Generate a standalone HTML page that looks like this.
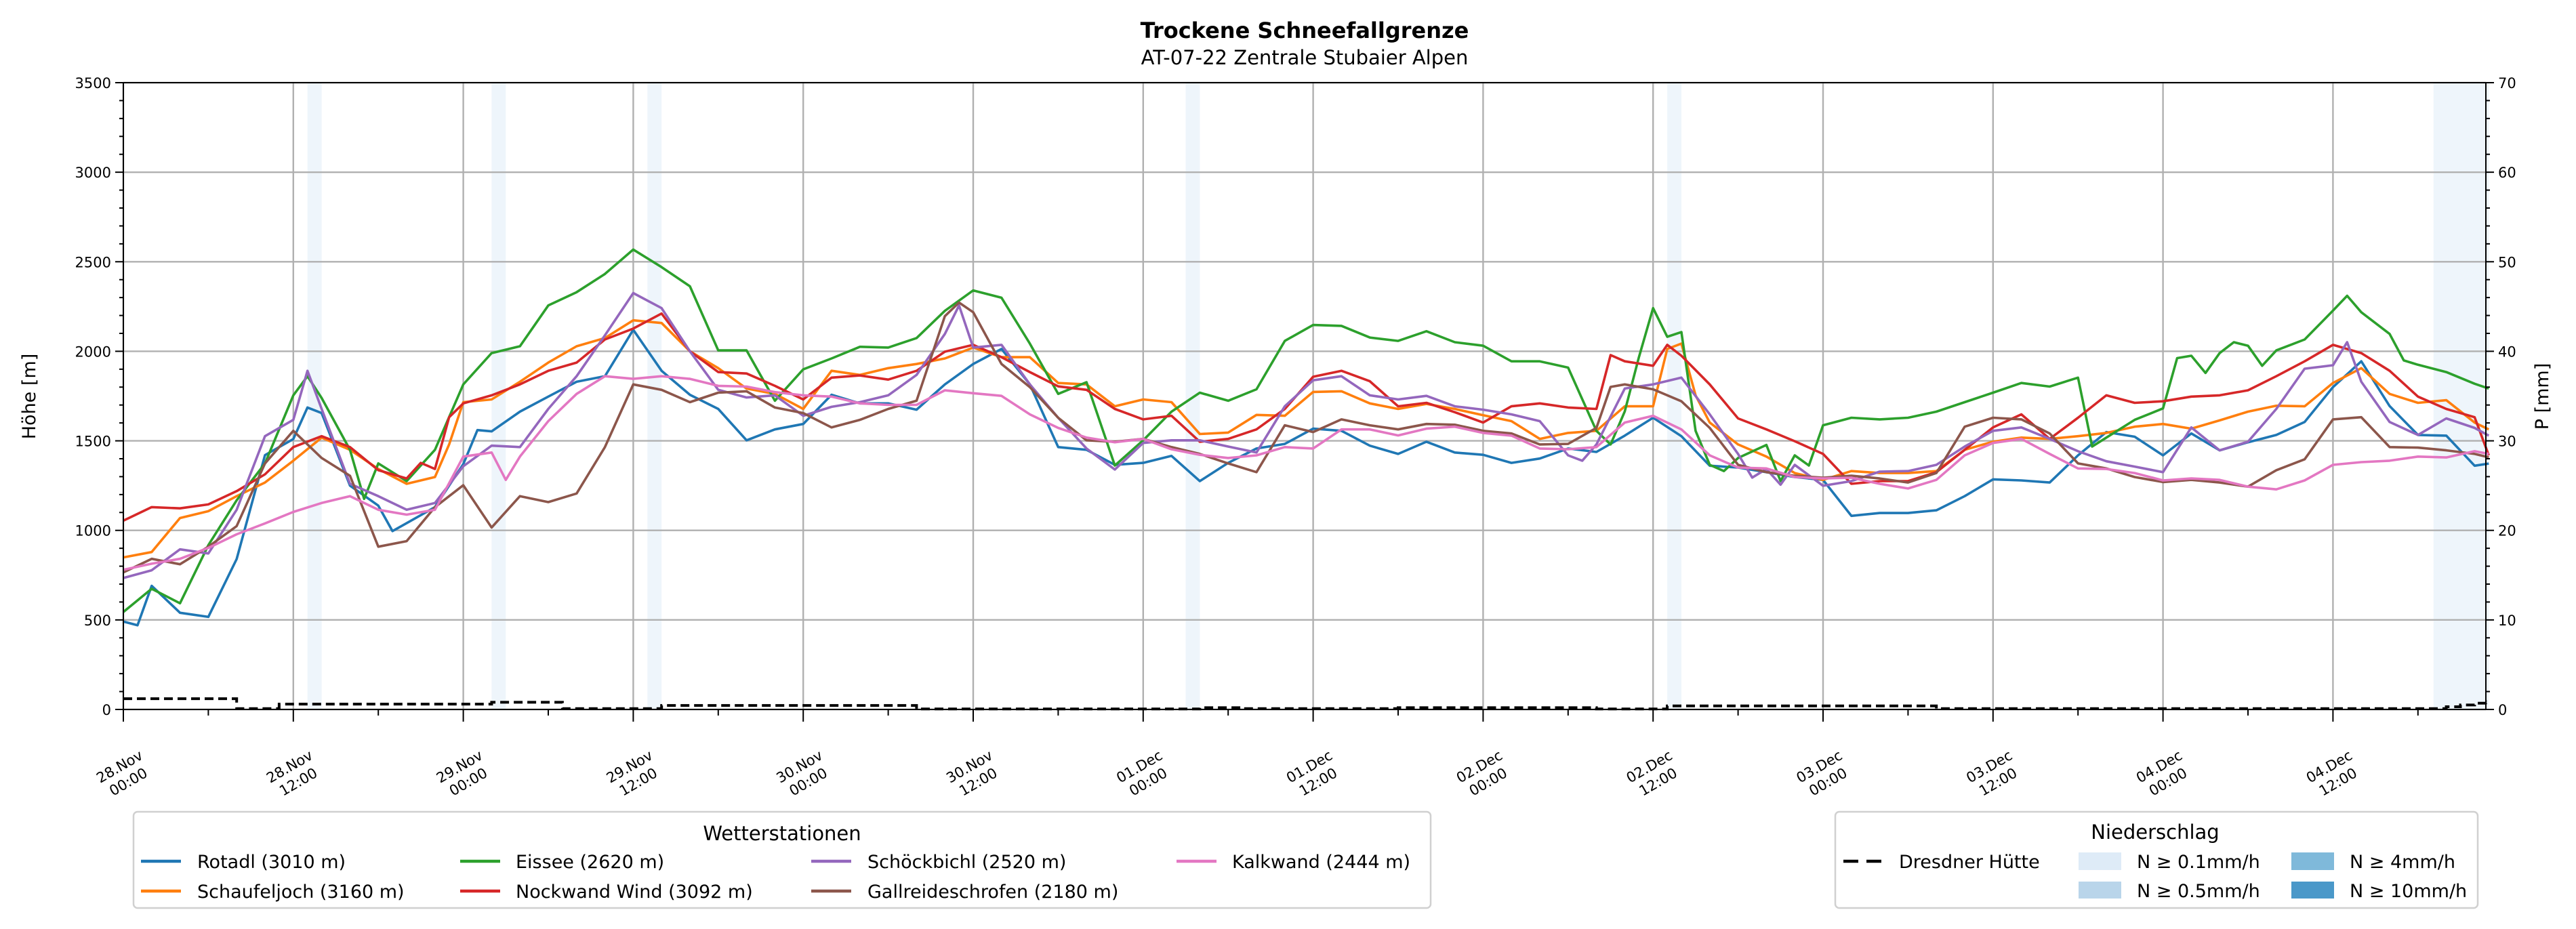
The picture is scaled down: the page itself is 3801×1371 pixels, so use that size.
<!DOCTYPE html>
<html><head><meta charset="utf-8">
<style>
html,body{margin:0;padding:0;background:#fff;}
svg{display:block;font-family:"DejaVu Sans","Liberation Sans",sans-serif;}
</style></head>
<body>
<svg id="chart" width="3801" height="1371" viewBox="0 0 3801 1371" xmlns="http://www.w3.org/2000/svg">
<rect x="0" y="0" width="3801" height="1371" fill="#fff"/>
<text x="1925" y="56" text-anchor="middle" font-size="32" font-weight="bold">Trockene Schneefallgrenze</text>
<text x="1925" y="95" text-anchor="middle" font-size="29">AT-07-22 Zentrale Stubaier Alpen</text>
<g id="bands"></g>
<g id="grid"></g>
<g id="series"></g>
<g id="axes"></g>
<text transform="translate(52,585) rotate(-90)" text-anchor="middle" font-size="27">Höhe [m]</text>
<text transform="translate(3760,585) rotate(-90)" text-anchor="middle" font-size="27">P [mm]</text>

<g>
<rect x="197" y="1198" width="1914" height="142" rx="6" fill="#fff" stroke="#d0d0d0" stroke-width="2.5"/>
<text x="1154" y="1240" text-anchor="middle" font-size="29">Wetterstationen</text>
<g font-size="27">
<line x1="208" y1="1271" x2="267" y2="1271" stroke="#1f77b4" stroke-width="4.5"/><text x="291" y="1281">Rotadl (3010 m)</text>
<line x1="208" y1="1315" x2="267" y2="1315" stroke="#ff7f0e" stroke-width="4.5"/><text x="291" y="1325">Schaufeljoch (3160 m)</text>
<line x1="679" y1="1271" x2="738" y2="1271" stroke="#2ca02c" stroke-width="4.5"/><text x="761" y="1281">Eissee (2620 m)</text>
<line x1="679" y1="1315" x2="738" y2="1315" stroke="#d62728" stroke-width="4.5"/><text x="761" y="1325">Nockwand Wind (3092 m)</text>
<line x1="1197" y1="1271" x2="1256" y2="1271" stroke="#9467bd" stroke-width="4.5"/><text x="1280" y="1281">Schöckbichl (2520 m)</text>
<line x1="1197" y1="1315" x2="1256" y2="1315" stroke="#8c564b" stroke-width="4.5"/><text x="1280" y="1325">Gallreideschrofen (2180 m)</text>
<line x1="1736" y1="1271" x2="1795" y2="1271" stroke="#e377c2" stroke-width="4.5"/><text x="1818" y="1281">Kalkwand (2444 m)</text>
</g></g>

<g>
<rect x="2708" y="1198" width="948" height="142" rx="6" fill="#fff" stroke="#d0d0d0" stroke-width="2.5"/>
<text x="3180" y="1238" text-anchor="middle" font-size="29">Niederschlag</text>
<g font-size="27">
<line x1="2720" y1="1271" x2="2778" y2="1271" stroke="#000" stroke-width="4.5" stroke-dasharray="22,12"/><text x="2802" y="1281">Dresdner Hütte</text>
<rect x="3067" y="1258" width="63" height="26" fill="#deebf7"/><text x="3153" y="1281">N ≥ 0.1mm/h</text>
<rect x="3067" y="1301" width="63" height="25" fill="#b9d5ea"/><text x="3153" y="1324">N ≥ 0.5mm/h</text>
<rect x="3381" y="1258" width="63" height="26" fill="#7fb9da"/><text x="3467" y="1281">N ≥ 4mm/h</text>
<rect x="3381" y="1301" width="63" height="25" fill="#4a98c9"/><text x="3467" y="1324">N ≥ 10mm/h</text>
</g></g>
</svg>
<script>
const xTickLabels = ["28.Nov\n00:00","28.Nov\n12:00","29.Nov\n00:00","29.Nov\n12:00","30.Nov\n00:00","30.Nov\n12:00","01.Dec\n00:00","01.Dec\n12:00","02.Dec\n00:00","02.Dec\n12:00","03.Dec\n00:00","03.Dec\n12:00","04.Dec\n00:00","04.Dec\n12:00"];
const yTicks = [0,500,1000,1500,2000,2500,3000,3500];
const y2Ticks = [0,10,20,30,40,50,60,70];

const rotadlH = [0,1,2,4,6,8,10,12,13,14,16,18,19,20,22,24,25,26,28,30,32,34,36,38,40,42,44,46,48,50,52,54,56,58,60,62,64,66,68,70,72,74,76,78,80,82,84,86,88,90,92,94,96,98,100,102,104,106,108,110,112,114,116,118,120,122,124,126,128,130,132,134,136,138,140,142,144,146,148,150,152,154,156,158,160,162,164,166,167];
const rotadlV = [491,470,690,540,517,840,1420,1510,1686,1655,1250,1138,996,1040,1130,1370,1560,1553,1663,1747,1830,1861,2120,1891,1757,1678,1503,1564,1594,1757,1709,1709,1674,1815,1929,2013,1815,1465,1450,1366,1377,1416,1275,1377,1457,1483,1568,1556,1473,1427,1495,1435,1422,1377,1401,1457,1438,1529,1629,1526,1361,1351,1325,1298,1282,1081,1097,1097,1112,1191,1285,1279,1267,1419,1549,1523,1419,1541,1447,1492,1533,1605,1800,1944,1694,1533,1529,1361,1373];

const schaufelH = [0,2,4,6,8,10,12,14,16,18,20,22,23,24,26,28,30,32,34,36,38,40,42,44,46,48,50,52,54,56,58,60,62,64,66,68,70,72,74,76,78,80,82,84,86,88,90,92,94,96,98,100,102,104,106,108,109,110,111,112,114,116,118,120,122,124,126,128,130,132,134,136,138,140,142,144,146,148,150,152,154,156,158,160,162,164,166,167];
const schaufelV = [849,879,1069,1107,1191,1267,1389,1518,1450,1343,1260,1298,1480,1716,1731,1830,1937,2028,2074,2173,2158,2000,1906,1792,1762,1678,1891,1868,1906,1929,1960,2021,1967,1967,1823,1815,1693,1731,1716,1538,1546,1645,1640,1773,1777,1709,1678,1706,1678,1643,1610,1511,1544,1556,1693,1693,2013,2043,1754,1602,1480,1412,1320,1282,1331,1320,1320,1331,1450,1495,1518,1511,1526,1544,1579,1594,1568,1614,1663,1696,1693,1823,1906,1762,1712,1727,1602,1564];

const eisseeH = [0,2,4,6,8,10,12,13,14,16,17,18,20,22,24,26,28,30,32,34,36,38,40,42,44,46,48,50,52,54,56,58,60,62,64,66,68,70,72,74,76,78,80,82,84,86,88,90,92,94,96,98,100,102,104,105,106,107,108,109,110,111,112,113,114,116,117,118,119,120,122,124,126,128,130,132,134,136,138,139,140,142,144,145,146,147,148,149,150,151,152,154,156,157,158,160,161,162,164,166,167];
const eisseeV = [544,674,593,917,1168,1374,1754,1861,1739,1450,1176,1374,1275,1450,1815,1990,2028,2256,2330,2432,2568,2470,2363,2005,2005,1724,1899,1960,2025,2021,2074,2226,2340,2299,2043,1762,1827,1362,1503,1663,1769,1724,1788,2058,2147,2142,2077,2058,2112,2051,2031,1944,1944,1909,1556,1480,1664,1967,2241,2081,2107,1556,1366,1331,1404,1477,1275,1419,1362,1587,1629,1620,1629,1663,1716,1769,1823,1803,1853,1468,1518,1617,1681,1962,1975,1879,1990,2051,2031,1919,2005,2066,2227,2310,2218,2097,1949,1925,1884,1819,1792];

const nockwandH = [0,2,4,6,8,10,12,14,16,18,20,21,22,23,24,26,28,30,32,34,36,38,40,42,44,46,48,50,52,54,56,58,60,62,64,66,68,70,72,74,76,78,80,82,84,86,88,90,92,94,96,98,100,102,104,105,106,108,109,110,112,114,116,118,120,122,124,126,128,130,132,134,136,138,140,142,144,146,148,150,152,154,156,158,160,162,164,166,167];
const nockwandV = [1054,1130,1123,1145,1219,1313,1465,1526,1465,1336,1290,1377,1343,1632,1709,1754,1815,1891,1937,2066,2127,2211,2000,1884,1876,1807,1731,1853,1865,1842,1891,1998,2036,1967,1884,1804,1785,1678,1620,1640,1495,1511,1564,1678,1858,1891,1833,1693,1712,1660,1602,1693,1709,1686,1678,1979,1944,1919,2036,1975,1815,1625,1564,1498,1427,1260,1275,1275,1325,1450,1575,1648,1511,1629,1754,1712,1721,1747,1754,1782,1861,1944,2036,1990,1891,1747,1678,1632,1419];

const schoeckH = [0,2,4,6,8,10,12,13,14,16,18,20,22,24,26,28,30,32,34,36,38,40,42,44,46,48,50,52,54,56,58,59,60,62,64,66,68,70,72,74,76,78,80,82,84,86,88,90,92,94,96,98,100,102,103,104,106,108,110,112,114,115,116,117,118,120,122,124,126,128,130,132,134,136,138,140,142,144,146,148,150,152,154,156,157,158,160,162,164,166,167];
const schoeckV = [734,777,894,871,1115,1526,1617,1891,1678,1260,1191,1115,1153,1358,1473,1465,1678,1861,2089,2325,2241,2000,1785,1742,1754,1640,1690,1716,1754,1868,2097,2256,2021,2036,1815,1629,1457,1340,1488,1503,1503,1468,1435,1693,1838,1861,1754,1731,1751,1693,1674,1648,1610,1419,1389,1480,1792,1815,1853,1648,1427,1295,1343,1255,1366,1249,1275,1328,1331,1366,1468,1556,1575,1511,1442,1386,1356,1325,1575,1447,1495,1678,1903,1922,2051,1830,1605,1533,1625,1572,1529];

const gallH = [0,2,4,6,8,10,12,14,16,18,20,22,24,26,28,30,32,34,36,38,40,42,44,46,48,50,52,54,56,58,59,60,62,64,66,68,70,72,74,76,78,80,82,84,86,88,90,92,94,96,98,100,102,104,105,106,108,110,112,114,116,118,120,122,124,126,128,130,132,134,136,138,140,142,144,146,148,150,152,154,156,158,160,162,164,166,167];
const gallV = [765,841,811,909,1024,1374,1556,1404,1305,909,940,1130,1252,1016,1191,1158,1206,1465,1815,1785,1716,1769,1777,1686,1655,1575,1617,1678,1724,2196,2272,2218,1929,1800,1629,1503,1495,1511,1465,1427,1374,1325,1587,1549,1620,1587,1564,1594,1590,1556,1541,1480,1483,1572,1801,1815,1788,1721,1572,1366,1325,1305,1294,1305,1290,1267,1320,1579,1629,1620,1541,1374,1346,1298,1270,1282,1267,1244,1336,1397,1620,1632,1465,1462,1447,1427,1408];

const kalkH = [0,2,4,6,8,10,12,14,16,18,20,22,24,26,27,28,30,32,34,36,38,40,42,44,46,48,50,52,54,56,58,60,62,64,66,68,70,72,74,76,78,80,82,84,86,88,90,92,94,96,98,100,102,104,106,108,110,112,114,116,118,120,122,124,126,128,130,132,134,136,138,140,142,144,146,148,150,152,154,156,158,160,162,164,166,167];
const kalkV = [780,814,841,902,978,1039,1103,1153,1191,1115,1088,1115,1412,1435,1282,1412,1610,1762,1861,1846,1861,1846,1807,1803,1772,1754,1747,1709,1701,1701,1782,1766,1751,1648,1572,1518,1492,1511,1453,1422,1404,1419,1465,1457,1564,1564,1530,1568,1579,1544,1529,1457,1453,1465,1602,1640,1564,1419,1351,1346,1298,1290,1294,1260,1234,1282,1419,1488,1511,1427,1346,1343,1320,1279,1290,1282,1244,1229,1279,1366,1381,1389,1412,1407,1442,1427];

// Dresdner Hütte precipitation steps (start hour, mm)
const precStart = [0,8,11,26,31,38,56,76,79,90,104,109,128,164,165,166,167];
const precMM = [1.2,0.1,0.6,0.8,0.1,0.45,0.05,0.2,0.1,0.2,0.05,0.4,0.1,0.3,0.5,0.7,0.9];
// hours with N >= 0.1 mm/h shading
const bandStart = [13,26,37,75,109,163.1];
const bandEnd = [14,27,38,76,110,167];

const NS = "http://www.w3.org/2000/svg";
const L = 182, R = 3668, T = 122, B = 1047;
const HMAX = (R - L) / 20.9;
function xs(h){ return L + h * (R - L) / HMAX; }
function ys(v){ return B - v * (B - T) / 3500; }
function yp(mm){ return B - mm * (B - T) / 70; }
function mk(tag, attrs, parent){
  const e = document.createElementNS(NS, tag);
  for (const k in attrs) e.setAttribute(k, attrs[k]);
  parent.appendChild(e);
  return e;
}
const bands = document.getElementById('bands');
const grid = document.getElementById('grid');
const ser = document.getElementById('series');
const axes = document.getElementById('axes');

for (let i = 0; i < bandStart.length; i++) {
  const r = mk('rect', {x: xs(bandStart[i]), y: T, width: xs(bandEnd[i]) - xs(bandStart[i]), height: B - T, fill: '#deebf7', opacity: 0.5}, bands);
  
  
}
for (const v of yTicks) {
  const g = mk('line', {x1: L, x2: R, y1: ys(v), y2: ys(v), stroke: '#b0b0b0', 'stroke-width': 2.4}, grid);
  
  
}
for (let i = 0; i < xTickLabels.length; i++) {
  const g = mk('line', {x1: xs(i*12), x2: xs(i*12), y1: T, y2: B, stroke: '#b0b0b0', 'stroke-width': 2.4}, grid);
  
  
}

const seriesList = [
  ['rotadl', rotadlH, rotadlV, '#1f77b4'],
  ['schaufeljoch', schaufelH, schaufelV, '#ff7f0e'],
  ['eissee', eisseeH, eisseeV, '#2ca02c'],
  ['nockwand', nockwandH, nockwandV, '#d62728'],
  ['schoeckbichl', schoeckH, schoeckV, '#9467bd'],
  ['gallreideschrofen', gallH, gallV, '#8c564b'],
  ['kalkwand', kalkH, kalkV, '#e377c2']
];
for (const s of seriesList) {
  const pts = s[1].map((h, i) => xs(h).toFixed(1) + ',' + ys(s[2][i]).toFixed(1)).join(' ');
  const p = mk('polyline', {points: pts, fill: 'none', stroke: s[3], 'stroke-width': 3.6, 'stroke-linejoin': 'round'}, ser);
  
  
}
let pp = [];
for (let i = 0; i < precStart.length; i++) {
  const h0 = precStart[i];
  const h1 = i + 1 < precStart.length ? precStart[i+1] : HMAX;
  pp.push(xs(h0).toFixed(1) + ',' + yp(precMM[i]).toFixed(1));
  pp.push(xs(Math.min(h1, HMAX)).toFixed(1) + ',' + yp(precMM[i]).toFixed(1));
}
const pl = mk('polyline', {points: pp.join(' '), fill: 'none', stroke: '#000', 'stroke-width': 4, 'stroke-dasharray': '13,7'}, ser);



const fr = mk('rect', {x: L, y: T, width: R - L, height: B - T, fill: 'none', stroke: '#000', 'stroke-width': 2}, axes);


for (let v = 0; v <= 3500; v += 100) {
  const major = v % 500 === 0;
  const t = mk('line', {x1: L - (major ? 12 : 6), x2: L, y1: ys(v), y2: ys(v), stroke: '#000', 'stroke-width': 2}, axes);
  
  
  const t2 = mk('line', {x1: R, x2: R + (major ? 12 : 6), y1: ys(v), y2: ys(v), stroke: '#000', 'stroke-width': 2}, axes);
  
  
}
for (const v of yTicks) {
  const tx = mk('text', {x: L - 18, y: ys(v) + 8, 'text-anchor': 'end', 'font-size': 21}, axes);
  tx.textContent = v;
  
  
}
for (const v of y2Ticks) {
  const tx = mk('text', {x: R + 18, y: yp(v) + 8, 'text-anchor': 'start', 'font-size': 21}, axes);
  tx.textContent = v;
  
  
}
for (let h = 0; h <= HMAX; h += 6) {
  const major = h % 12 === 0;
  const t = mk('line', {x1: xs(h), x2: xs(h), y1: B, y2: B + (major ? 18 : 9), stroke: '#000', 'stroke-width': 2}, axes);
  
  
}
for (let i = 0; i < xTickLabels.length; i++) {
  const parts = xTickLabels[i].split('\n');
  const cx = xs(i*12), cy = 1141;
  const tx = mk('text', {'text-anchor': 'middle', 'font-size': 21, transform: 'translate(' + cx + ',' + cy + ') rotate(-30)'}, axes);
  
  
  const a = mk('tspan', {x: 0, y: -4}, tx); a.textContent = parts[0];
  const b = mk('tspan', {x: 0, y: 22}, tx); b.textContent = parts[1];
}
</script>
</body></html>
